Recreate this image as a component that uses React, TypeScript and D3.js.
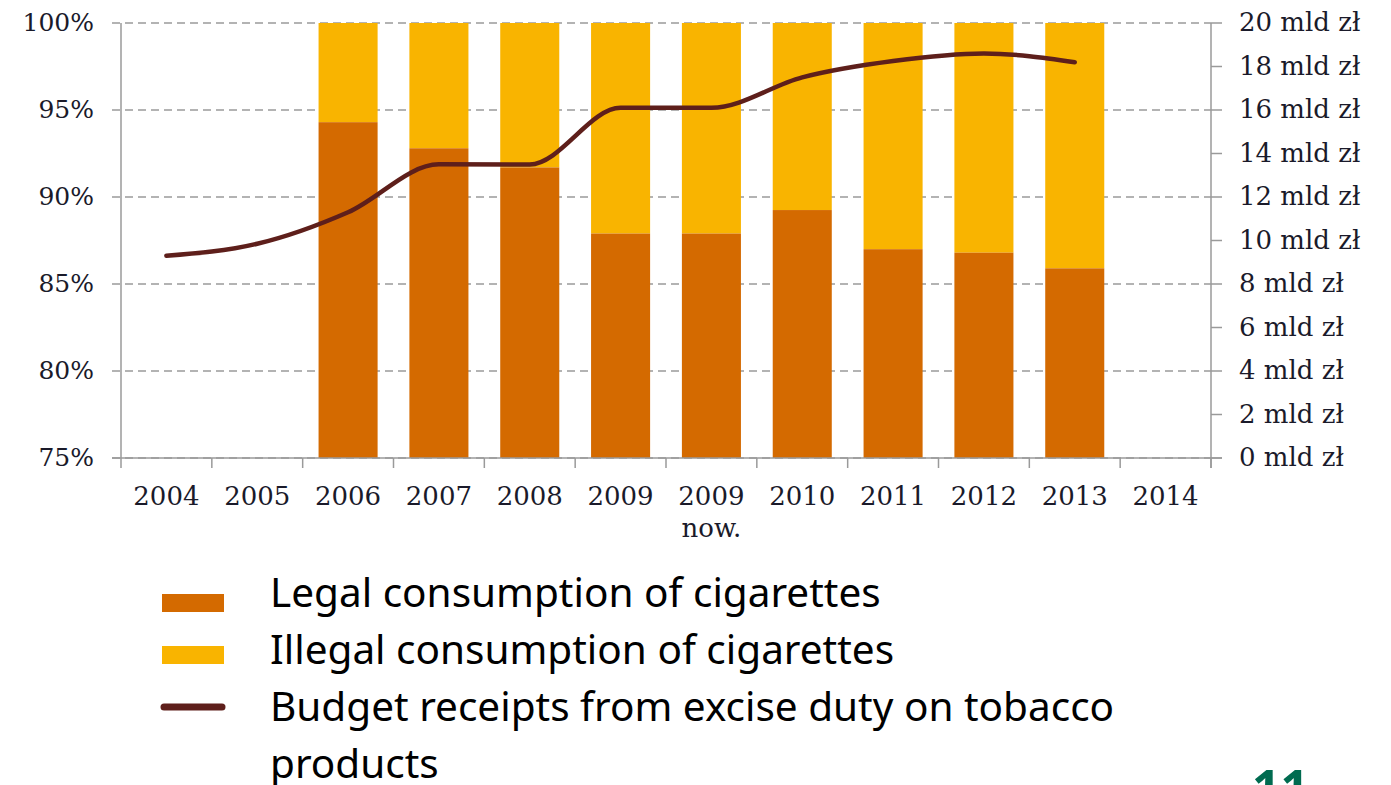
import React from "react";
import * as d3 from "d3";

const categories = ["2004", "2005", "2006", "2007", "2008", "2009", "2009 now.", "2010", "2011", "2012", "2013", "2014"];
const legalShare = [null, null, 94.3, 92.8, 91.7, 87.9, 87.9, 89.25, 87.0, 86.8, 85.9, null];
const exciseReceipts = [9.3, 9.85, 11.3, 13.5, 13.5, 16.1, 16.1, 17.5, 18.25, 18.6, 18.2, null];
const leftTicks = [75, 80, 85, 90, 95, 100];
const rightTicks = [0, 2, 4, 6, 8, 10, 12, 14, 16, 18, 20];
const legendLabels = ["Legal consumption of cigarettes", "Illegal consumption of cigarettes", "Budget receipts from excise duty on tobacco", "products"];

const W = 1391, H = 785;
const left = 121, right = 1211, top = 23, bottom = 458;
const LEGAL = "#D46A00", ILLEGAL = "#F9B400", LINE = "#5E1F1B", GRID = "#9a9a9a";
const serif = "Georgia, 'DejaVu Serif', 'Liberation Serif', serif";

export default function App() {
  const x = d3.scaleBand().domain(categories).range([left, right]).paddingInner(0.35).paddingOuter(0.175);
  const yL = d3.scaleLinear().domain([75, 100]).range([bottom, top]);
  const yR = d3.scaleLinear().domain([0, 20]).range([bottom, top]);
  const bw = x.bandwidth();
  const step = x.step();
  const pts = categories.map((c, i) => ({ c, v: exciseReceipts[i] })).filter(d => d.v != null) as { c: string; v: number }[];
  const line = d3.line<{ c: string; v: number }>().x(d => (x(d.c) as number) + bw / 2).y(d => yR(d.v)).curve(d3.curveMonotoneX);
  const boundaries = categories.map((c, i) => left + i * step).concat([right]);

  return (
    <svg width={W} height={H} style={{ position: "absolute", left: 0, top: 0, background: "#fff" }}>
      {leftTicks.map(t => (
        <line key={"g" + t} x1={left - 9} x2={right} y1={yL(t)} y2={yL(t)} stroke={GRID} strokeWidth={1.5} strokeDasharray="8,5" />
      ))}
      {categories.map((c, i) => {
        const v = legalShare[i];
        if (v == null) return null;
        const bx = x(c) as number;
        return (
          <g key={"b" + c}>
            <rect x={bx} y={yL(100)} width={bw} height={yL(v) - yL(100)} fill={ILLEGAL} />
            <rect x={bx} y={yL(v)} width={bw} height={yL(75) - yL(v)} fill={LEGAL} />
          </g>
        );
      })}
      <line x1={left} x2={left} y1={top} y2={bottom} stroke={GRID} strokeWidth={1.5} />
      <line x1={right} x2={right} y1={top} y2={bottom + 10} stroke={GRID} strokeWidth={1.5} />
      <line x1={left - 9} x2={right + 11} y1={bottom} y2={bottom} stroke={GRID} strokeWidth={1.5} />
      {boundaries.map((bx, i) => (
        <line key={"xt" + i} x1={bx} x2={bx} y1={bottom} y2={bottom + 10} stroke={GRID} strokeWidth={1.5} />
      ))}
      {rightTicks.map(t => (
        <line key={"rt" + t} x1={right} x2={right + 11} y1={yR(t)} y2={yR(t)} stroke={GRID} strokeWidth={1.5} />
      ))}
      <path d={line(pts) || ""} fill="none" stroke={LINE} strokeWidth={4.5} strokeLinecap="round" strokeLinejoin="round" />
      {leftTicks.map(t => (
        <text key={"ll" + t} x={94} y={yL(t) + 8} textAnchor="end" fontFamily={serif} fontSize={25} fill="#1a1a2a">{t + "%"}</text>
      ))}
      {rightTicks.map(t => (
        <text key={"rl" + t} x={1239} y={yR(t) + 8} textAnchor="start" fontFamily={serif} fontSize={26} fill="#1a1a2a">{t + " mld zł"}</text>
      ))}
      {categories.map(c => {
        const cx = (x(c) as number) + bw / 2;
        const parts = c.split(" ");
        return (
          <text key={"xl" + c} x={cx} y={505} textAnchor="middle" fontFamily={serif} fontSize={26} fill="#1a1a2a">
            {parts.map((p, k) => (
              <tspan key={k} x={cx} dy={k === 0 ? 0 : 32}>{p}</tspan>
            ))}
          </text>
        );
      })}
      <rect x={162} y={594} width={62} height={18} fill={LEGAL} />
      <rect x={162} y={646} width={62} height={18} fill={ILLEGAL} />
      <line x1={164} x2={222} y1={707} y2={707} stroke={LINE} strokeWidth={7} strokeLinecap="round" />
      {legendLabels.map((l, i) => (
        <text key={"lg" + i} x={270} y={607 + i * 57} fontFamily="'Noto Sans', 'Open Sans', sans-serif" fontSize={40.5} fill="#000">{l}</text>
      ))}
      <text x={1252} y={806} fontFamily="'Noto Sans', sans-serif" fontWeight="bold" fontSize={50} fill="#006B50">11</text>
    </svg>
  );
}
